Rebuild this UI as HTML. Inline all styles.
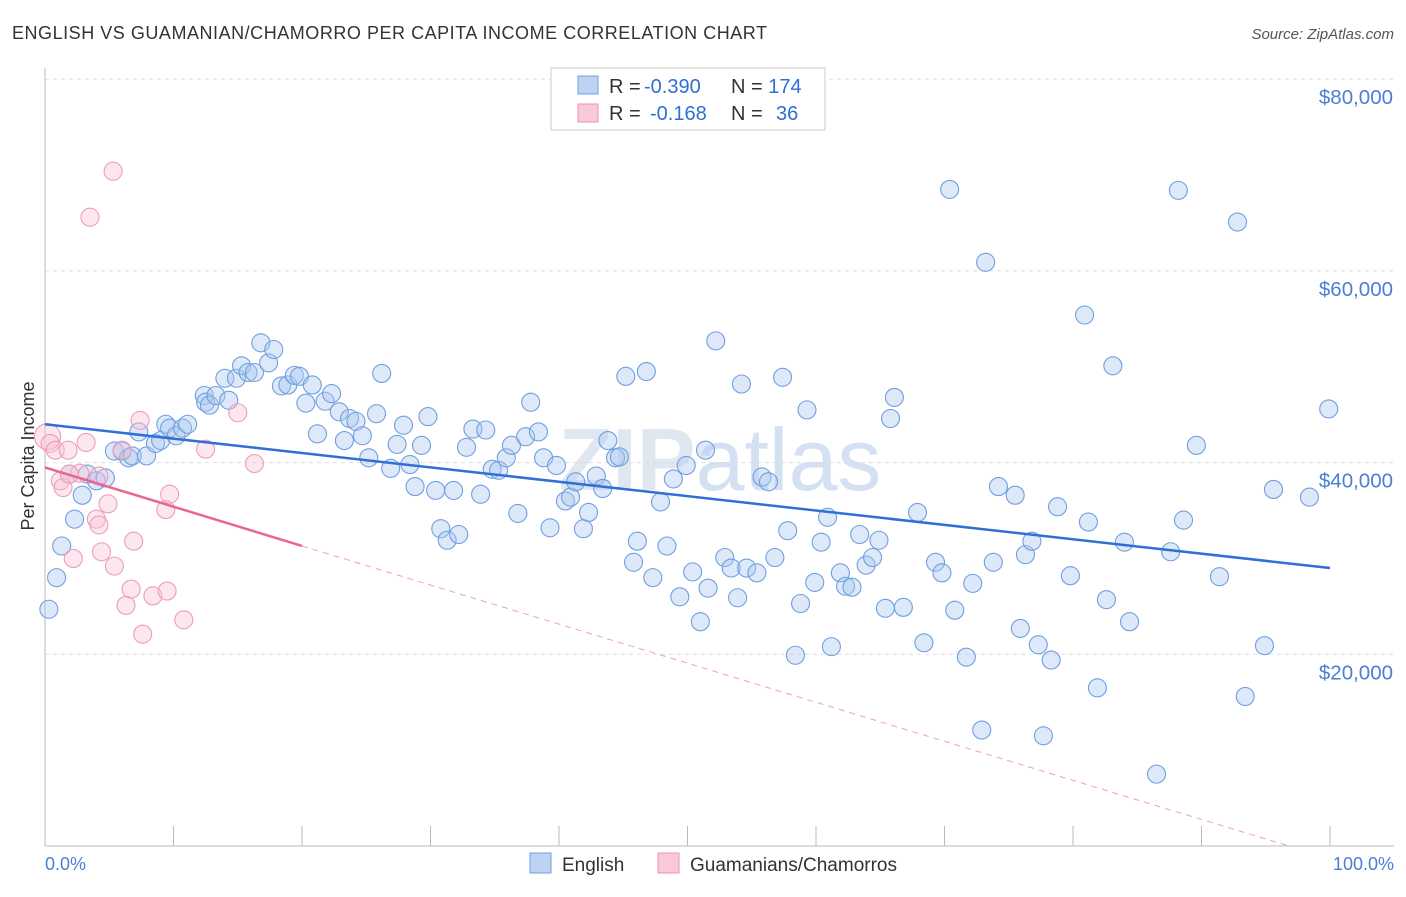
<!DOCTYPE html>
<html><head><meta charset="utf-8"><style>
body{margin:0;background:#fff;font-family:"Liberation Sans",sans-serif}
</style></head><body>
<svg id="c" width="1406" height="892" xmlns="http://www.w3.org/2000/svg">
<text x="12" y="39" font-size="18" fill="#333" textLength="755">ENGLISH VS GUAMANIAN/CHAMORRO PER CAPITA INCOME CORRELATION CHART</text>
<text x="1394" y="39" font-size="15" fill="#555" font-style="italic" text-anchor="end">Source: ZipAtlas.com</text>
<text x="720" y="490" font-size="88" fill="#dfe7f1" text-anchor="middle" font-weight="bold">ZIP<tspan font-weight="normal" fill="#d3e1f2">atlas</tspan></text>
<g id="grid"></g><g id="axes"></g><g id="pts"></g><g id="lines"></g>
<text transform="translate(34,456) rotate(-90)" font-size="18" fill="#333" text-anchor="middle">Per Capita Income</text>
<text x="45" y="870" font-size="18" fill="#4a7fd4">0.0%</text>
<text x="1394" y="870" font-size="18" fill="#4a7fd4" text-anchor="end">100.0%</text>
<g>
<rect x="551" y="68" width="274" height="62" fill="#fff" stroke="#ccc"/>
<rect x="578" y="76" width="20" height="18" fill="#bcd3f3" stroke="#6f9fe0"/>
<rect x="578" y="104" width="20" height="18" fill="#f9c9d8" stroke="#ea93b0"/>
<text x="609" y="93" font-size="20" fill="#333">R = <tspan fill="#2f6fd6" x="644">-0.390</tspan><tspan x="731">N = </tspan><tspan fill="#2f6fd6">174</tspan></text>
<text x="609" y="120" font-size="20" fill="#333">R = <tspan fill="#2f6fd6" x="650">-0.168</tspan><tspan x="731">N = </tspan><tspan fill="#2f6fd6" x="776">36</tspan></text>
</g>
<g>
<rect x="530" y="853" width="21" height="20" fill="#bcd3f3" stroke="#6f9fe0"/>
<text x="562" y="871" font-size="19" fill="#333">English</text>
<rect x="658" y="853" width="21" height="20" fill="#f9c9d8" stroke="#ea93b0"/>
<text x="690" y="871" font-size="19" fill="#333">Guamanians/Chamorros</text>
</g>
</svg>
<script>
const yTicks=[20000,40000,60000,80000];
const yTickLabels=["$20,000","$40,000","$60,000","$80,000"];
const xTicks=[0,10,20,30,40,50,60,70,80,90,100];
const blueX=[0.3,0.9,1.3,2.3,2.9,1.9,3.3,4.0,4.7,5.4,6.0,6.5,6.8,7.9,7.3,8.6,9.0,9.4,9.7,10.2,10.7,11.1,12.4,12.5,12.8,13.3,14.0,14.3,14.9,15.3,15.8,16.3,16.8,17.4,17.8,18.4,18.9,19.4,19.8,20.3,20.8,21.2,21.8,22.3,22.9,23.3,23.7,24.2,24.7,25.2,25.8,26.2,26.9,27.4,27.9,28.4,28.8,29.3,29.8,30.4,30.8,31.3,31.8,32.2,32.8,33.3,33.9,34.3,34.8,35.3,35.9,36.3,36.8,37.4,37.8,38.4,38.8,39.3,39.8,40.5,40.9,41.3,41.9,42.3,42.9,43.4,43.8,44.4,44.7,45.2,46.1,45.8,46.8,47.3,47.9,48.4,48.9,49.4,49.9,50.4,51.0,51.4,51.6,52.2,52.9,53.4,53.9,54.2,54.6,55.4,55.8,56.3,56.8,57.4,57.8,58.4,58.8,59.3,59.9,60.4,60.9,61.2,61.9,62.3,62.8,63.4,63.9,64.4,64.9,65.4,65.8,66.1,66.8,67.9,68.4,69.3,69.8,70.4,70.8,71.7,72.2,72.9,73.2,73.8,74.2,75.5,75.9,76.3,76.8,77.3,77.7,78.3,78.8,79.8,80.9,81.2,81.9,82.6,83.1,84.0,84.4,86.5,87.6,88.2,88.6,89.6,91.4,92.8,93.4,94.9,95.6,98.4,99.9];
const blueY=[24.7,28.0,31.3,34.1,36.6,38.8,38.8,38.1,38.4,41.2,41.2,40.5,40.7,40.7,43.2,42.0,42.3,44.0,43.6,42.8,43.6,44.0,47.0,46.3,46.0,47.0,48.8,46.5,48.8,50.1,49.4,49.4,52.5,50.4,51.8,48.0,48.1,49.1,49.0,46.2,48.1,43.0,46.4,47.2,45.3,42.3,44.6,44.3,42.8,40.5,45.1,49.3,39.4,41.9,43.9,39.8,37.5,41.8,44.8,37.1,33.1,31.9,37.1,32.5,41.6,43.5,36.7,43.4,39.3,39.2,40.5,41.8,34.7,42.7,46.3,43.2,40.5,33.2,39.7,36.0,36.4,38.0,33.1,34.8,38.6,37.3,42.3,40.5,40.6,49.0,31.8,29.6,49.5,28.0,35.9,31.3,38.3,26.0,39.7,28.6,23.4,41.3,26.9,52.7,30.1,29.0,25.9,48.2,29.0,28.5,38.5,38.0,30.1,48.9,32.9,19.9,25.3,45.5,27.5,31.7,34.3,20.8,28.5,27.1,27.0,32.5,29.3,30.1,31.9,24.8,44.6,46.8,24.9,34.8,21.2,29.6,28.5,68.5,24.6,19.7,27.4,12.1,60.9,29.6,37.5,36.6,22.7,30.4,31.8,21.0,11.5,19.4,35.4,28.2,55.4,33.8,16.5,25.7,50.1,31.7,23.4,7.5,30.7,68.4,34.0,41.8,28.1,65.1,15.6,20.9,37.2,36.4,45.6];
const pinkX=[0.2,0.4,0.8,1.2,1.4,1.8,2.2,2.7,3.2,3.5,4.0,4.2,4.4,4.9,5.3,5.4,6.0,6.3,6.7,6.9,7.4,7.6,8.4,9.4,9.7,9.5,10.8,12.5,15.0,16.3,1.9,4.2];
const pinkY=[42.7,42.0,41.3,38.1,37.4,41.3,30.0,38.9,42.1,65.6,34.1,33.5,30.7,35.7,70.4,29.2,41.3,25.1,26.8,31.8,44.4,22.1,26.1,35.1,36.7,26.6,23.6,41.4,45.2,39.9,38.8,38.6];
const blueTrend=[[0,44.0],[100,29.0]];
const pinkTrend=[[0,39.5],[20,31.3]];
const pinkDash=[[20,31.3],[96.8,0]];
const NS="http://www.w3.org/2000/svg";
const X=p=>45+p*12.85;
const Y=v=>846-v*1000*191.7/20000;
function mk(t,a,parent){const e=document.createElementNS(NS,t);for(const k in a)e.setAttribute(k,a[k]);document.getElementById(parent).appendChild(e);return e;}
yTicks.forEach((v,i)=>{
 const g=mk('line',{x1:45,x2:1394,y1:Y(v/1000),y2:Y(v/1000),stroke:'#ddd','stroke-dasharray':'4,4'},'grid');
 
 
 const t=mk('text',{x:1393,y:Y(v/1000)+25,'font-size':20.5,fill:'#4a7fd4','text-anchor':'end'},'axes');
 t.textContent=yTickLabels[i];
 
 
});
const ax=mk('line',{x1:45,x2:45,y1:68,y2:846,stroke:'#bbb'},'axes');


const bx=mk('line',{x1:45,x2:1394,y1:846,y2:846,stroke:'#bbb'},'axes');


xTicks.forEach(p=>{const t=mk('line',{x1:X(p),x2:X(p),y1:826,y2:846,stroke:'#bbb'},'axes');
 
 });
blueX.forEach((x,i)=>{const c=mk('circle',{cx:X(x),cy:Y(blueY[i]),r:9,fill:'rgba(170,200,240,0.4)',stroke:'#6f9fe0','stroke-width':1.1},'pts');
 
 });
pinkX.forEach((x,i)=>{const c=mk('circle',{cx:X(x),cy:Y(pinkY[i]),r:i==0?13:9,fill:'rgba(248,195,214,0.4)',stroke:'#ee9cb8','stroke-width':1.1},'pts');
 
 });
const bl=mk('line',{x1:X(blueTrend[0][0]),y1:Y(blueTrend[0][1]),x2:X(blueTrend[1][0]),y2:Y(blueTrend[1][1]),stroke:'#2f6fd6','stroke-width':2.5},'lines');


const pl=mk('line',{x1:X(pinkTrend[0][0]),y1:Y(pinkTrend[0][1]),x2:X(pinkTrend[1][0]),y2:Y(pinkTrend[1][1]),stroke:'#e8668f','stroke-width':2.5},'lines');


const pd=mk('line',{x1:X(pinkDash[0][0]),y1:Y(pinkDash[0][1]),x2:X(pinkDash[1][0]),y2:Y(pinkDash[1][1]),stroke:'#eea0b8','stroke-width':1,'stroke-dasharray':'6,5'},'lines');


</script>
</body></html>
